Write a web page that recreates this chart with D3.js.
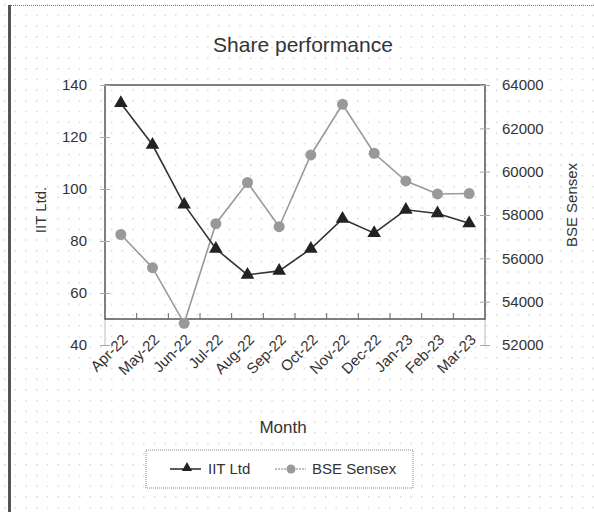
<!DOCTYPE html>
<html>
<head>
<meta charset="utf-8">
<style>
body { margin: 0; background: #fff; }
text { font-family: "Liberation Sans", Arial, sans-serif; fill: #333; }
</style>
</head>
<body>
<svg width="594" height="512"></svg>
<script src="https://d3js.org/d3.v7.min.js"></script>
<script>

var months = ["Apr-22","May-22","Jun-22","Jul-22","Aug-22","Sep-22","Oct-22","Nov-22","Dec-22","Jan-23","Feb-23","Mar-23"];
var iitLtd = [133, 117, 94, 77, 67, 68.5, 77, 88.5, 83, 92, 90.6, 86.8];
var bseSensex = [57100, 55570, 53000, 57600, 59500, 57460, 60770, 63110, 60850, 59570, 58970, 58990];
var leftTicks = [40, 60, 80, 100, 120, 140];
var rightTicks = [52000, 54000, 56000, 58000, 60000, 62000, 64000];

var svg = d3.select("svg");

// dotted paper background
var defs = svg.append("defs");
var pat = defs.append("pattern")
    .attr("id", "dots")
    .attr("width", 10.7).attr("height", 10.7)
    .attr("patternUnits", "userSpaceOnUse");
pat.append("rect").attr("x", 4).attr("y", 4).attr("width", 1.3).attr("height", 1.3).attr("fill", "#c8c8c8");
svg.append("rect").attr("width", 594).attr("height", 512).attr("fill", "url(#dots)");

// page border
svg.append("line").attr("x1", 9).attr("x2", 594).attr("y1", 5.5).attr("y2", 5.5)
    .attr("stroke", "#777").attr("stroke-dasharray", "1,1");
svg.append("line").attr("x1", 9.5).attr("x2", 9.5).attr("y1", 5).attr("y2", 512)
    .attr("stroke", "#555").attr("stroke-width", 3);

var plotLeft = 105, plotRight = 485, plotTop = 85, plotBottom = 345;

var x = d3.scaleBand().domain(months).range([plotLeft, plotRight]);
var yL = d3.scaleLinear().domain([40, 140]).range([plotBottom, plotTop]);
var yR = d3.scaleLinear().domain([52000, 64000]).range([plotBottom, plotTop]);

var frameBottom = yL(50);

// axis lines extending below the frame
svg.append("line").attr("x1", plotLeft).attr("x2", plotLeft).attr("y1", frameBottom).attr("y2", plotBottom)
    .attr("stroke", "#bbb");
svg.append("line").attr("x1", plotRight).attr("x2", plotRight).attr("y1", frameBottom).attr("y2", plotBottom)
    .attr("stroke", "#bbb");

// plot frame
svg.append("rect").attr("x", plotLeft).attr("y", plotTop)
    .attr("width", plotRight - plotLeft).attr("height", frameBottom - plotTop)
    .attr("fill", "none").attr("stroke", "#555").attr("stroke-width", 1.5);

// left axis
var gl = svg.append("g").attr("transform", "translate(" + plotLeft + ",0)")
    .call(d3.axisLeft(yL).tickValues(leftTicks).tickSize(5).tickPadding(13));
gl.select(".domain").remove();
gl.selectAll(".tick line").attr("stroke", "#aaa").attr("x2", -5).attr("x1", 5);
gl.selectAll(".tick text").attr("font-size", 15).attr("fill", "#333");

// right axis
var gr = svg.append("g").attr("transform", "translate(" + plotRight + ",0)")
    .call(d3.axisRight(yR).tickValues(rightTicks).tickFormat(d3.format("d")).tickSize(5).tickPadding(12));
gr.select(".domain").remove();
gr.selectAll(".tick line").attr("stroke", "#aaa").attr("x1", -5).attr("x2", 5);
gr.selectAll(".tick text").attr("font-size", 15).attr("fill", "#333");

// x ticks at category boundaries
svg.append("g").selectAll("line")
    .data(months.slice(1))
    .enter().append("line")
    .attr("x1", function(d) { return x(d); })
    .attr("x2", function(d) { return x(d); })
    .attr("y1", frameBottom - 6).attr("y2", frameBottom)
    .attr("stroke", "#666");

// x labels
svg.append("g").selectAll("text")
    .data(months)
    .enter().append("text")
    .attr("font-size", 15)
    .attr("text-anchor", "end")
    .attr("transform", function(d) {
      return "translate(" + (x(d) + x.bandwidth() / 2 + 4) + "," + (frameBottom + 18) + ") rotate(-45)";
    })
    .attr("dy", "0.35em")
    .text(function(d) { return d; });

// lines
var cx = function(d, i) { return x(months[i]) + x.bandwidth() / 2; };

svg.append("path")
    .datum(bseSensex)
    .attr("fill", "none").attr("stroke", "#999").attr("stroke-width", 1.6)
    .attr("d", d3.line().x(cx).y(function(d) { return yR(d); }));

svg.append("g").selectAll("circle")
    .data(bseSensex)
    .enter().append("circle")
    .attr("cx", cx).attr("cy", function(d) { return yR(d); })
    .attr("r", 5.5).attr("fill", "#999");

svg.append("path")
    .datum(iitLtd)
    .attr("fill", "none").attr("stroke", "#333").attr("stroke-width", 1.6)
    .attr("d", d3.line().x(cx).y(function(d) { return yL(d); }));

var tri = d3.symbol().type(d3.symbolTriangle).size(80);
svg.append("g").selectAll("path")
    .data(iitLtd)
    .enter().append("path")
    .attr("d", tri)
    .attr("transform", function(d, i) { return "translate(" + cx(d, i) + "," + yL(d) + ")"; })
    .attr("fill", "#222");

// titles
svg.append("text").attr("x", 303).attr("y", 52).attr("text-anchor", "middle")
    .attr("font-size", 21).text("Share performance");
svg.append("text").attr("x", 283).attr("y", 433).attr("text-anchor", "middle")
    .attr("font-size", 17).text("Month");
svg.append("text").attr("transform", "translate(46,210) rotate(-90)").attr("text-anchor", "middle")
    .attr("font-size", 15).text("IIT Ltd.");
svg.append("text").attr("transform", "translate(577,205) rotate(-90)").attr("text-anchor", "middle")
    .attr("font-size", 15).text("BSE Sensex");

// legend
var lg = svg.append("g");
lg.append("rect").attr("x", 146).attr("y", 450).attr("width", 267).attr("height", 38)
    .attr("fill", "#fff").attr("stroke", "#888").attr("stroke-dasharray", "1,1");
lg.append("line").attr("x1", 170).attr("x2", 201).attr("y1", 469).attr("y2", 469)
    .attr("stroke", "#333").attr("stroke-width", 1.6);
lg.append("path").attr("d", d3.symbol().type(d3.symbolTriangle).size(45))
    .attr("transform", "translate(187,468)").attr("fill", "#222");
lg.append("text").attr("x", 208).attr("y", 474).attr("font-size", 15).text("IIT Ltd");
lg.append("line").attr("x1", 275).attr("x2", 306).attr("y1", 469).attr("y2", 469)
    .attr("stroke", "#aaa").attr("stroke-width", 1.6).attr("stroke-dasharray", "2,1");
lg.append("circle").attr("cx", 291).attr("cy", 469).attr("r", 4.5).attr("fill", "#999");
lg.append("text").attr("x", 312).attr("y", 474).attr("font-size", 15).text("BSE Sensex");

</script>
</body>
</html>
